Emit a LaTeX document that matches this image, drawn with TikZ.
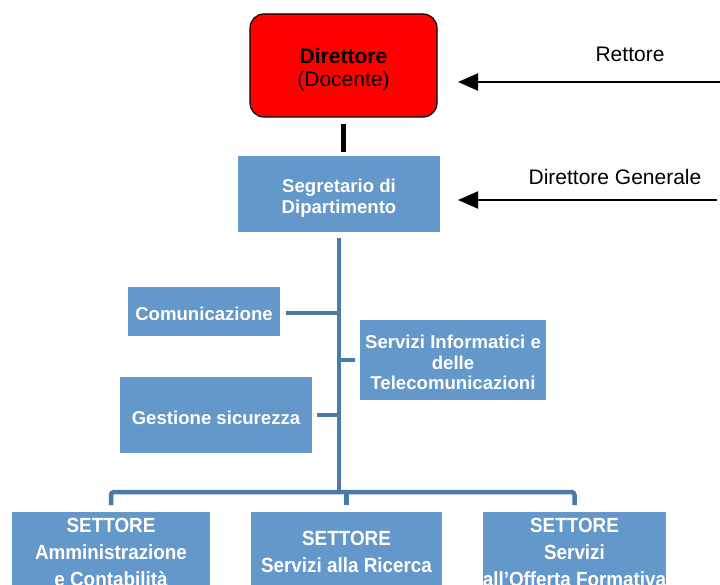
\documentclass[tikz,border=0pt]{standalone}
\usepackage{fontspec}
\setmainfont{Liberation Sans}
\newfontfamily\narrowfont[FakeStretch=0.92]{Liberation Sans}
\usetikzlibrary{arrows.meta,positioning,calc}
\definecolor{boxblue}{RGB}{100,151,202}
\definecolor{lineblue}{RGB}{74,122,168}
\definecolor{dirred}{RGB}{255,0,0}
\newcommand{\pushdown}[1]{\rule{0pt}{#1}}

\begin{document}
\begin{tikzpicture}[x=1pt, y=-1pt,
      dirbox/.style={draw=black, line width=1.2pt, fill=dirred, rounded corners=14pt,
        minimum width=187pt, minimum height=103pt, align=center,
        font=\fontsize{21}{23}\selectfont},
      ubox/.style={fill=boxblue, text=white, align=center, inner sep=2pt,
        font=\fontsize{18.6}{20.5}\selectfont\bfseries},
      sbox/.style={fill=boxblue, text=white, align=center, anchor=north, inner xsep=0pt,
        minimum height=80pt, font=\narrowfont\fontsize{20.5}{27}\selectfont\bfseries},
      tree/.style={draw=lineblue, line width=4.5pt},
      arr/.style={-{Triangle[length=20pt,width=17pt]}, line width=2pt},
      lbl/.style={font=\fontsize{21}{23}\selectfont}
    ]
      \useasboundingbox (0,0) rectangle (720,585);
      % top
      \node[dirbox] (dir) at (343.5,65.5) {\pushdown{23pt}\textbf{Direttore}\\(Docente)};
      \node[ubox, minimum width=202pt, minimum height=76pt] (segr) at (339,194)
        {\pushdown{22pt}Segretario di\\Dipartimento};
      \draw[line width=5pt, shorten <=6pt, shorten >=4pt] (dir.south) -- (dir.south |- segr.north);
      % external links
      \coordinate (rin) at (720,82);
      \coordinate (rout) at (458,82);
      \coordinate (gin) at (717,200);
      \coordinate (gout) at (458,200);
      \draw[arr] (rin) -- (rout);
      \draw[arr] (gin) -- (gout);
      \node[lbl] (rett) at (630,54) {Rettore};
      \node[lbl] (dg) at (615,177) {Direttore Generale};
      % staff units
      \node[ubox, minimum width=152pt, minimum height=49pt] (comm) at (204,311.5)
        {\pushdown{19pt}Comunicazione};
      \node[ubox, minimum width=186pt, minimum height=80pt] (sit) at (453,360)
        {\pushdown{19pt}Servizi Informatici e\\delle\\Telecomunicazioni};
      \node[ubox, minimum width=192pt, minimum height=76pt] (sic) at (216,415)
        {\pushdown{19pt}Gestione sicurezza};
      % sectors
      \node[sbox, minimum width=198pt] (set1) at (111,512) {SETTORE\\Amministrazione\\e Contabilità};
      \node[sbox, minimum width=191pt] (set2) at (346.5,512) {SETTORE\\Servizi alla Ricerca};
      \node[sbox, minimum width=183pt] (set3) at (574.5,512) {SETTORE\\Servizi\\all’Offerta Formativa};
      \coordinate (bus) at (340,492);
      \draw[tree, shorten <=6pt] (segr.south) -- (segr.south |- bus);
      \draw[tree, shorten <=6pt] ([yshift=-1.5pt]comm.east) -- ([yshift=-1.5pt]comm.east -| bus);
      \draw[tree, shorten >=5pt] (sit.west -| bus) -- (sit.west);
      \draw[tree, shorten <=5pt] (sic.east) -- (sic.east -| bus);
      \draw[tree, rounded corners=3pt] ([yshift=7pt]set1.north) |- (bus) -| ([yshift=7pt]set3.north);
      \draw[tree] ([yshift=7pt]set2.north) -- (set2.north |- bus);
    \end{tikzpicture}
\end{document}
